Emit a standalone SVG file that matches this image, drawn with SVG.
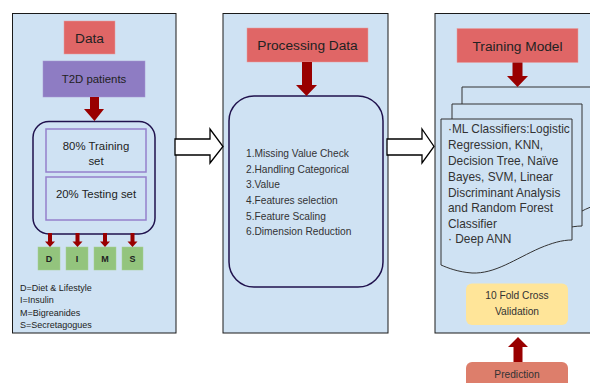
<svg xmlns="http://www.w3.org/2000/svg" width="590" height="383" viewBox="0 0 590 383">
<style>
text{font-family:"Liberation Sans",Arial,sans-serif;fill:#222}
.panel{fill:#cfe2f3;stroke:#1a1a1a;stroke-width:1}
.title{fill:#e06666;stroke:#e8a0a0;stroke-width:0.5}
.red{fill:#990000}
.hollow{fill:#fff;stroke:#000;stroke-width:1.3;stroke-linejoin:miter}
.doc{fill:#cfe2f3;stroke:#333;stroke-width:1}
.grp{fill:none;stroke:#20124d;stroke-width:1.5}
.inner{fill:none;stroke:#9580cc;stroke-width:1.5}
.dims{fill:#93c47d;stroke:#a6d092;stroke-width:0.5}
.t14{font-size:13.7px}
.t12{font-size:11.9px;fill:#333}
.t11{font-size:11.4px}
.t10{font-size:10.2px;fill:#333}
.t9{font-size:9px}
</style>

<g id="panel-data">
  <rect class="panel" x="12.5" y="13.5" width="163.5" height="319.5"/>
</g>
<g id="panel-processing">
  <rect class="panel" x="223" y="13.5" width="165" height="319.5"/>
</g>
<g id="panel-training">
  <rect class="panel" x="435" y="13.5" width="170" height="319.5"/>
</g>

<g id="node-data">
  <rect class="title" x="64" y="21" width="51" height="33"/>
  <text class="t14" x="89.5" y="43" text-anchor="middle">Data</text>
</g>
<g id="node-t2d">
  <rect x="43" y="61" width="102" height="36" fill="#8e7cc3" stroke="#a595d0" stroke-width="0.5"/>
  <text class="t11" x="94" y="82.5" text-anchor="middle">T2D patients</text>
</g>
<g id="node-split">
  <rect class="grp" x="33" y="121.5" width="122" height="112.5" rx="16"/>
  <rect class="inner" x="46" y="129" width="100" height="43"/>
  <text class="t11" x="96" y="150" text-anchor="middle">80% Training</text>
  <text class="t11" x="96" y="164.5" text-anchor="middle">set</text>
  <rect class="inner" x="46" y="177" width="100" height="43"/>
  <text class="t11" x="96" y="198" text-anchor="middle">20% Testing set</text>
</g>
<g id="node-d">
  <rect class="dims" x="38" y="247" width="22" height="23"/>
  <text class="t9" x="49" y="261.5" text-anchor="middle" font-weight="bold">D</text>
</g>
<g id="node-i">
  <rect class="dims" x="66" y="247" width="22" height="23"/>
  <text class="t9" x="77" y="261.5" text-anchor="middle" font-weight="bold">I</text>
</g>
<g id="node-m">
  <rect class="dims" x="94" y="247" width="22" height="23"/>
  <text class="t9" x="105" y="261.5" text-anchor="middle" font-weight="bold">M</text>
</g>
<g id="node-s">
  <rect class="dims" x="122" y="247" width="21" height="23"/>
  <text class="t9" x="132.5" y="261.5" text-anchor="middle" font-weight="bold">S</text>
</g>
<g id="legend">
  <text class="t9" x="20" y="291">D=Diet &amp; Lifestyle</text>
  <text class="t9" x="20" y="303.3">I=Insulin</text>
  <text class="t9" x="20" y="315.5">M=Bigreanides</text>
  <text class="t9" x="20" y="327.5">S=Secretagogues</text>
</g>

<g id="node-processing-title">
  <rect class="title" x="247" y="28" width="121" height="34"/>
  <text class="t14" x="307.5" y="50" text-anchor="middle">Processing Data</text>
</g>
<g id="node-steps">
  <rect class="grp" x="229" y="96" width="154" height="191" rx="25"/>
  <text class="t10" x="246" y="157">1.Missing Value Check</text>
  <text class="t10" x="246" y="172.5">2.Handling Categorical</text>
  <text class="t10" x="246" y="188">3.Value</text>
  <text class="t10" x="246" y="203.5">4.Features selection</text>
  <text class="t10" x="246" y="219.5">5.Feature Scaling</text>
  <text class="t10" x="246" y="235">6.Dimension Reduction</text>
</g>

<g id="node-training-title">
  <rect class="title" x="457" y="28.5" width="121" height="34"/>
  <text class="t14" x="517.5" y="50.5" text-anchor="middle">Training Model</text>
</g>
<g id="node-classifiers">
  <path class="doc" d="M462,87 H602 V204 C594,205 588,208 580,212 C560,222 530,238 500,238 C485,238 472,235 462,231 Z"/>
  <path class="doc" d="M452,104 H582 V226 C576,226 572,227 565,228 C540,233 510,252 478,252 C466,252 458,249 452,247 Z"/>
  <path class="doc" d="M441,119 H572 V240 C562,240 552,243 540,248 C515,259 495,274 472,273 C458,272 448,268 441,265 Z"/>
  <text class="t12" x="448" y="132.5">·ML Classifiers:Logistic</text>
  <text class="t12" x="448" y="148.5">Regression, KNN,</text>
  <text class="t12" x="448" y="164.5">Decision Tree, Naïve</text>
  <text class="t12" x="448" y="180.5">Bayes, SVM, Linear</text>
  <text class="t12" x="448" y="196.5">Discriminant Analysis</text>
  <text class="t12" x="448" y="212">and Random Forest</text>
  <text class="t12" x="448" y="227.5">Classifier</text>
  <text class="t12" x="448" y="243">· Deep ANN</text>
</g>
<g id="node-cv">
  <rect x="466" y="283.5" width="102" height="41.5" rx="6" fill="#ffe599"/>
  <text class="t10" x="517" y="298.5" text-anchor="middle">10 Fold Cross</text>
  <text class="t10" x="517" y="314.5" text-anchor="middle">Validation</text>
</g>
<g id="node-prediction">
  <rect x="466" y="362" width="102" height="30" rx="6" fill="#dd7e6b"/>
  <text class="t10" x="517" y="377.5" text-anchor="middle">Prediction</text>
</g>

<g id="connectors">
  <path class="red" d="M90,97 H99 V109 H104 L94.5,121 L84,109 H90 Z"/>
  <path class="red" d="M48,233 H52 V241.5 H55 L50,247 L45,241.5 H48 Z"/>
  <path class="red" d="M75.5,233 H79.5 V241.5 H82.5 L77.5,247 L72.5,241.5 H75.5 Z"/>
  <path class="red" d="M103,233 H107 V241.5 H110 L105,247 L100,241.5 H103 Z"/>
  <path class="red" d="M130.5,233 H134.5 V241.5 H137.5 L132.5,247 L127.5,241.5 H130.5 Z"/>
  <path class="red" d="M302,62 H312 V85 H317 L306.5,96 L296,85 H302 Z"/>
  <path class="red" d="M512.5,62.5 H522.5 V76 H528 L517.5,87 L507,76 H512.5 Z"/>
  <path class="red" d="M513.5,362 H522.5 V347 H528 L518,337 L508,347 H513.5 Z"/>
  <path class="hollow" d="M175,139 H210 V129 L223,146.5 L210,163 V155 H175 Z"/>
  <path class="hollow" d="M387,139 H422 V129 L434,146.5 L422,163 V155 H387 Z"/>
</g>
</svg>
